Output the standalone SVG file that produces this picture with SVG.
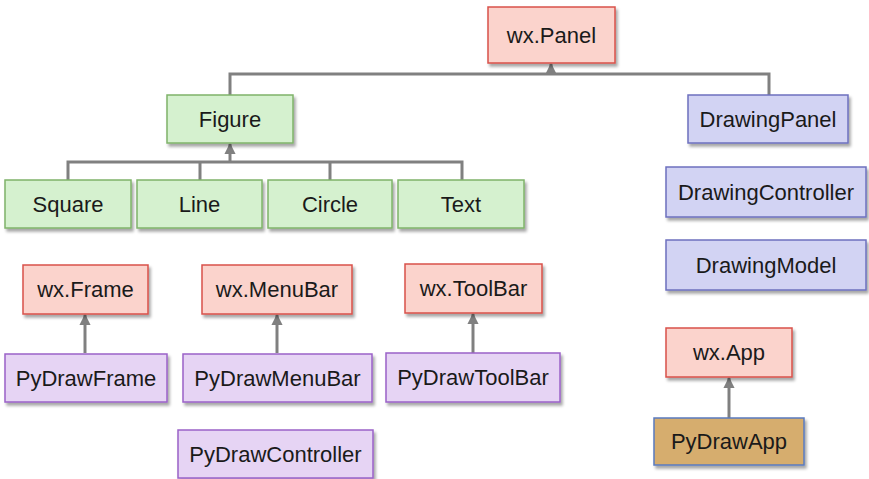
<svg xmlns="http://www.w3.org/2000/svg" width="869" height="479" viewBox="0 0 869 479">
<style>
.box{stroke-width:1.5;filter:url(#sh)}
.red{fill:#fbd3cc;stroke:#d9514b}
.green{fill:#d5f1cf;stroke:#7fb36a}
.blue{fill:#d2d3f3;stroke:#6d70be}
.purple{fill:#e6d4f4;stroke:#9a62c8}
.tan{fill:#d6ad6e;stroke:#5a7bbf}
text{font-family:"Liberation Sans",Arial,sans-serif;font-size:22px;fill:#1a1a1a;text-anchor:middle}
.c{fill:none;stroke:#808080;stroke-width:3}
</style>
<defs>
<filter id="sh" x="-10%" y="-20%" width="130%" height="150%">
<feDropShadow dx="2" dy="3" stdDeviation="1.8" flood-color="#000" flood-opacity="0.35"/>
</filter>
<marker id="ah" viewBox="0 0 10 10" refX="9" refY="5" markerWidth="3.8" markerHeight="3.8" orient="auto">
<path d="M0,0 L10,5 L0,10 z" fill="#808080"/>
</marker>
</defs>
<rect width="869" height="479" fill="#fff"/>
<g id="connectors">
<path class="c" d="M230,95 V74 H769 V95"/>
<path class="c" d="M551,74 V64" marker-end="url(#ah)"/>
<path class="c" d="M68,180 V162 H462 V180 M200,162 V180 M330,162 V180"/>
<path class="c" d="M230,162 V144" marker-end="url(#ah)"/>
<path class="c" d="M85,353 V315" marker-end="url(#ah)"/>
<path class="c" d="M277,353 V315" marker-end="url(#ah)"/>
<path class="c" d="M473,353 V314" marker-end="url(#ah)"/>
<path class="c" d="M729,418 V378" marker-end="url(#ah)"/>
</g>
<g id="wxPanel"><rect class="box red" x="488" y="7" width="127" height="56"/><text x="551.5" y="43">wx.Panel</text></g>
<g id="Figure"><rect class="box green" x="167" y="95" width="126" height="48"/><text x="230" y="127">Figure</text></g>
<g id="DrawingPanel"><rect class="box blue" x="688" y="95" width="160" height="48"/><text x="768" y="127">DrawingPanel</text></g>
<g id="Square"><rect class="box green" x="5" y="180" width="126" height="48"/><text x="68" y="212">Square</text></g>
<g id="Line"><rect class="box green" x="137" y="180" width="125" height="48"/><text x="199.5" y="212">Line</text></g>
<g id="Circle"><rect class="box green" x="268" y="180" width="124" height="48"/><text x="330" y="212">Circle</text></g>
<g id="Text"><rect class="box green" x="398" y="180" width="126" height="48"/><text x="461" y="212">Text</text></g>
<g id="DrawingController"><rect class="box blue" x="666" y="167" width="200" height="50"/><text x="766" y="200">DrawingController</text></g>
<g id="DrawingModel"><rect class="box blue" x="666" y="240" width="200" height="50"/><text x="766" y="273">DrawingModel</text></g>
<g id="wxFrame"><rect class="box red" x="23" y="265" width="125" height="49"/><text x="85.5" y="297">wx.Frame</text></g>
<g id="wxMenuBar"><rect class="box red" x="202" y="265" width="150" height="49"/><text x="277" y="297">wx.MenuBar</text></g>
<g id="wxToolBar"><rect class="box red" x="405" y="264" width="137" height="49"/><text x="473.5" y="296">wx.ToolBar</text></g>
<g id="PyDrawFrame"><rect class="box purple" x="5" y="354" width="162" height="48"/><text x="86" y="386">PyDrawFrame</text></g>
<g id="PyDrawMenuBar"><rect class="box purple" x="183" y="354" width="189" height="48"/><text x="277.5" y="386">PyDrawMenuBar</text></g>
<g id="PyDrawToolBar"><rect class="box purple" x="386" y="353" width="174" height="49"/><text x="473" y="385">PyDrawToolBar</text></g>
<g id="PyDrawController"><rect class="box purple" x="178" y="430" width="195" height="48"/><text x="275.5" y="462">PyDrawController</text></g>
<g id="wxApp"><rect class="box red" x="666" y="328" width="126" height="49"/><text x="729" y="360">wx.App</text></g>
<g id="PyDrawApp"><rect class="box tan" x="654" y="418" width="150" height="47"/><text x="729" y="449">PyDrawApp</text></g>
</svg>
